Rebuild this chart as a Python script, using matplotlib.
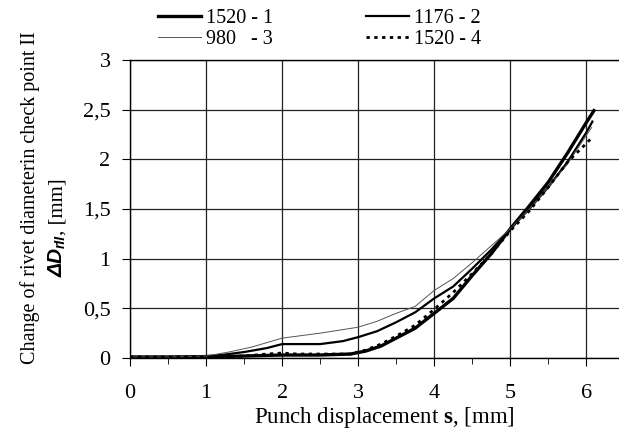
import matplotlib
matplotlib.use('Agg')
import matplotlib.pyplot as plt
from matplotlib.ticker import MultipleLocator

# punch displacement s [mm] and diameter change [mm] for each series
s1 = [0, 0.5, 1.0, 1.5, 2.0, 2.5, 2.9, 3.1, 3.3, 3.5, 3.75, 4.0, 4.25, 4.5, 4.75, 5.0, 5.25, 5.5, 5.75, 6.0, 6.1]
d1 = [0.01, 0.01, 0.01, 0.02, 0.03, 0.03, 0.04, 0.07, 0.12, 0.2, 0.3, 0.45, 0.6, 0.83, 1.05, 1.3, 1.53, 1.77, 2.06, 2.37, 2.49]

s2 = [0, 0.5, 1.0, 1.2, 1.5, 1.8, 2.0, 2.5, 2.8, 3.0, 3.25, 3.5, 3.75, 4.0, 4.25, 4.5, 4.75, 5.0, 5.25, 5.5, 5.75, 6.0, 6.08]
d2 = [0.01, 0.01, 0.02, 0.03, 0.06, 0.1, 0.14, 0.14, 0.17, 0.21, 0.27, 0.36, 0.46, 0.6, 0.72, 0.9, 1.09, 1.3, 1.5, 1.72, 1.97, 2.27, 2.38]

s3 = [0, 0.5, 1.0, 1.3, 1.6, 2.0, 2.5, 3.0, 3.25, 3.5, 3.75, 4.0, 4.25, 4.5, 4.75, 5.0, 5.25, 5.5, 5.75, 6.0, 6.07]
d3 = [0.01, 0.01, 0.02, 0.06, 0.11, 0.2, 0.25, 0.31, 0.37, 0.45, 0.52, 0.68, 0.8, 0.96, 1.13, 1.3, 1.5, 1.72, 1.95, 2.24, 2.32]

s4 = [0, 0.5, 1.0, 1.5, 1.8, 2.0, 2.2, 2.5, 2.9, 3.1, 3.3, 3.5, 3.75, 4.0, 4.25, 4.5, 4.75, 5.0, 5.25, 5.5, 5.75, 6.0, 6.05]
d4 = [0.01, 0.01, 0.01, 0.02, 0.04, 0.05, 0.04, 0.04, 0.04, 0.08, 0.14, 0.22, 0.33, 0.49, 0.66, 0.85, 1.05, 1.28, 1.48, 1.72, 1.97, 2.16, 2.2]

labels = ['1520 - 1', '1176 - 2', '980   - 3', '1520 - 4']
xticks = [0, 1, 2, 3, 4, 5, 6]
yticks = [0, 0.5, 1, 1.5, 2, 2.5, 3]
ytick_labels = ['0', '0,5', '1', '1,5', '2', '2,5', '3']

plt.rcParams['font.family'] = 'Liberation Serif'
plt.rcParams['mathtext.fontset'] = 'custom'
plt.rcParams['mathtext.rm'] = 'Liberation Serif'
plt.rcParams['mathtext.bf'] = 'Liberation Serif:bold'

W, H = 619, 432
fig = plt.figure(figsize=(6.19, 4.32), dpi=100)
ax = fig.add_axes([130/W, 74/H, 489/W, 298/H])

l1, = ax.plot(s1, d1, color='black', lw=2.4, label=labels[0])
l2, = ax.plot(s2, d2, color='black', lw=1.6, label=labels[1])
l3, = ax.plot(s3, d3, color='#555555', lw=0.7, label=labels[2])
l4, = ax.plot(s4, d4, color='black', lw=2.0, ls=(0, (1.2, 1.6)), label=labels[3])

ax.set_xlim(0, 6.43)
ax.set_ylim(0, 3)
ax.set_xticks(xticks)
ax.xaxis.set_minor_locator(MultipleLocator(0.5))
ax.set_yticks(yticks)
ax.set_yticklabels(ytick_labels)
ax.grid(True, which='major', color='#222222', lw=0.9)
ax.spines['right'].set_visible(False)
for sp in ['left', 'bottom', 'top']:
    ax.spines[sp].set_linewidth(1.0)
ax.tick_params(axis='x', which='major', length=6, pad=13, labelsize=16)
ax.tick_params(axis='x', which='minor', length=4)
ax.tick_params(axis='y', length=6, pad=8, labelsize=16)

fig.text(384/W, 1 - 418/H, r'Punch displacement $\mathbf{s}$, [mm]',
         ha='center', va='center', fontsize=16.5)

fig.text(30/W, 1 - 198/H, 'Change of rivet diameterin check point II',
         rotation=90, ha='center', va='center', fontsize=14.5)

# rotated y label built from pieces: ΔD, subscript rII, then ", [mm]"
rend = fig.canvas.get_renderer()
ypos = 1 - 277/H
t = fig.text(57/W, ypos, 'ΔD', rotation=90, ha='center', va='bottom', fontsize=15,
             family='Liberation Sans', weight='bold', style='italic')
ypos += t.get_window_extent(rend).height / H
t = fig.text(61/W, ypos, 'rII', rotation=90, ha='center', va='bottom', fontsize=10,
             family='Liberation Sans', weight='bold', style='italic')
ypos += t.get_window_extent(rend).height / H
fig.text(58/W, ypos, ', [mm]', rotation=90, ha='center', va='bottom', fontsize=15)

fig.legend(handles=[l1, l3, l2, l4], loc='upper left', bbox_to_anchor=(155/W, 1 - 6/H),
           ncol=2, frameon=False, fontsize=14.5, handlelength=2.15, handletextpad=0.25,
           columnspacing=4.6, labelspacing=0.1, borderaxespad=0.0, borderpad=0.15)

fig.savefig('out.png', dpi=100)
